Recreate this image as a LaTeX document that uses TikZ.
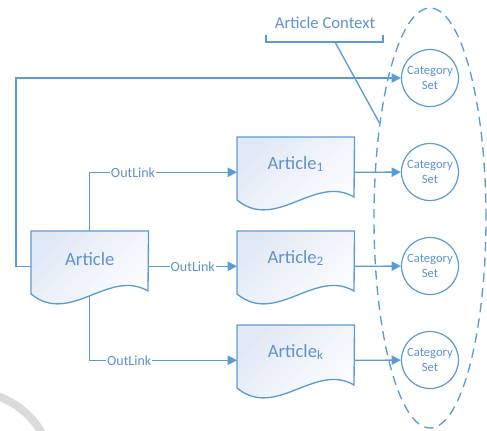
\documentclass[tikz,border=0pt]{standalone}
\usepackage{fontspec}
\setmainfont{Carlito}
\usetikzlibrary{arrows.meta,calc,shapes.geometric}
\definecolor{lb}{HTML}{5B9BD5}
\definecolor{tb}{HTML}{5F92CE}
\definecolor{fillb}{HTML}{E2E9F6}
\newcommand\mydocshape[1]{%
  \path[docline] (#1.north west) -- (#1.north east) -- ($(#1.north west)+(117,60)$)
    .. controls ($(#1.north west)+(78,37)$) and ($(#1.north west)+(39,95)$) ..
    ($(#1.north west)+(0,63)$) -- cycle;}
\begin{document}
\begin{tikzpicture}[x=0.75pt,y=-0.75pt,
  docbox/.style={rectangle, minimum width=87.75pt, minimum height=52.5pt, inner sep=0pt, anchor=north west},
  docline/.style={draw=lb, line width=1pt, top color=fillb, bottom color=white, shading angle=45},
  conn/.style={draw=lb, line width=1pt, -{Triangle[length=7pt,width=7pt]}},
  lbl/.style={fill=white, text=tb, font=\fontsize{10.5}{12}\selectfont, inner sep=0.6pt},
  cat/.style={circle, draw=lb, line width=0.9pt, minimum size=42.75pt, inner sep=0pt, align=center, text=tb, font=\fontsize{9.5}{11.5}\selectfont},
  title/.style={text=tb, font=\fontsize{14}{16}\selectfont},
  ctxstyle/.style={ellipse, draw=lb, line width=1pt, dash pattern=on 7pt off 4.5pt, minimum width=84pt, minimum height=315pt, inner sep=0pt}]
\useasboundingbox (0,0) rectangle (487,430);
% faint watermark arc
\begin{scope}
  \clip (0,0) rectangle (487,430);
  \draw[gray!28, line width=6pt] (-30,474) ++(88:62pt) arc[start angle=88, end angle=0, radius=62pt];
\end{scope}
% documents
\node[docbox] (art) at (31,231) {};
\node[docbox] (a1) at (237,137) {};
\node[docbox] (a2) at (237,231) {};
\node[docbox] (ak) at (237,325) {};
\mydocshape{art}
\mydocshape{a1}
\mydocshape{a2}
\mydocshape{ak}
\node[title] (artt) at ($(art.north)+(0,28)$) {Article};
\node[title] (a1t) at ($(a1.north)+(0,27)$) {Article\textsubscript{1}};
\node[title] (a2t) at ($(a2.north)+(0,27)$) {Article\textsubscript{2}};
\node[title] (akt) at ($(ak.north)+(0,27)$) {Article\textsubscript{k}};
% category sets
\node[cat] (cs1) at (430,78) {Category\\Set};
\node[cat] (cs2) at (430,172) {Category\\Set};
\node[cat] (cs3) at (430,266) {Category\\Set};
\node[cat] (cs4) at (430,360) {Category\\Set};
% context ellipse
\node[ctxstyle] (ctxell) at (430,218) {};
\node[text=tb, font=\fontsize{12.5}{14}\selectfont] (ctx) at (325,23) {Article Context};
\draw[lb, line width=1pt] ($(ctx)+(-59,12)$) -- ++(0,7) -- ++(117,0) -- ++(0,-7);
\coordinate (brm) at ($(ctx)+(10,19)$);
\draw[lb, line width=1pt] (brm) -- (ctxell.118);
% connectors
\coordinate (fb) at (16,78);
\draw[conn] (art.west) -| (fb) -- (cs1);
\draw[conn] (art.north) |- node[lbl, pos=0.647] {OutLink} (a1.west);
\draw[conn] (art.east) -- node[lbl] {OutLink} (a2.west);
\coordinate (artb) at ($(art.north)+(0,65)$);
\draw[conn] (artb) |- node[lbl, pos=0.634] {OutLink} (ak.west);
\draw[conn] (a1.east) -- (cs2);
\draw[conn] (a2.east) -- (cs3);
\draw[conn] (ak.east) -- (cs4);
\end{tikzpicture}
\end{document}
